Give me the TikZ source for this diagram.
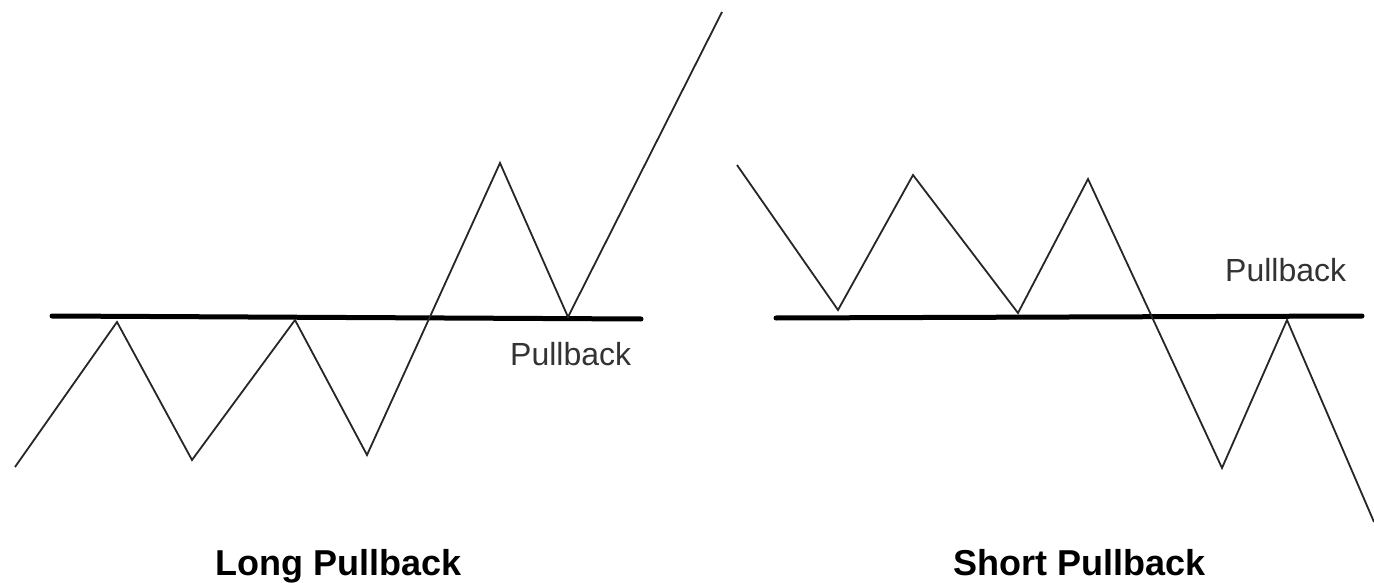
\documentclass[tikz,border=0pt]{standalone}
\usepackage{fontspec}
\setmainfont{Liberation Sans}
\begin{document}
\begin{tikzpicture}[x=1pt,y=-1pt,
  price/.style={line width=1.8pt, line join=miter, black!85},
  level/.style={line width=5pt, line cap=round, black},
  small/.style={font=\fontsize{32}{36}\selectfont, text=black!80, inner sep=0pt},
  title/.style={font=\bfseries\fontsize{36}{40}\selectfont, inner sep=0pt}]
\useasboundingbox (0,0) rectangle (1374,583);
\fill[white] (0,0) rectangle (1374,583);
% Left: long pullback
\coordinate (L1) at (52,316);
\coordinate (L2) at (641,319);
\draw[level] (L1) -- (L2);
\coordinate (a0) at (15,467);
\coordinate (a1) at (117,322);
\coordinate (a2) at (192,460);
\coordinate (a3) at (295,320);
\coordinate (a4) at (367,455);
\coordinate (a5) at (500,163);
\coordinate (a6) at (568,317);
\coordinate (a7) at (722,12);
\draw[price] (a0) -- (a1) -- (a2) -- (a3) -- (a4) -- (a5) -- (a6) -- (a7);
\node[small, anchor=base west] (lpb) at (510,365) {Pullback};
\node[title, anchor=base west] (lt) at (215,575) {Long Pullback};
% Right: short pullback
\coordinate (R1) at (776,318);
\coordinate (R2) at (1362,316);
\draw[level] (R1) -- (R2);
\coordinate (b0) at (737,165);
\coordinate (b1) at (838,310);
\coordinate (b2) at (913,175);
\coordinate (b3) at (1018,313);
\coordinate (b4) at (1088,179);
\coordinate (b5) at (1222,468);
\coordinate (b6) at (1287,320);
\coordinate (b7) at (1374,522);
\draw[price] (b0) -- (b1) -- (b2) -- (b3) -- (b4) -- (b5) -- (b6) -- (b7);
\node[small, anchor=base west] (rpb) at (1225,281) {Pullback};
\node[title, anchor=base west] (rt) at (953,575) {Short Pullback};
\end{tikzpicture}
\end{document}
